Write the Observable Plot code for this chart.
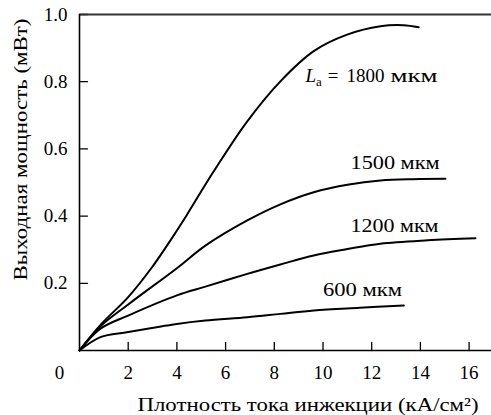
<!DOCTYPE html>
<html>
<head>
<meta charset="utf-8">
<script src="https://cdn.jsdelivr.net/npm/d3@7"></script>
<script src="https://cdn.jsdelivr.net/npm/@observablehq/plot@0.6"></script>
<style>
  html, body { margin: 0; padding: 0; background: #fff; }
  #chart svg { display: block; }
  #chart svg, #chart svg text { font-family: "Liberation Serif", "Times New Roman", serif !important; }
</style>
</head>
<body>
<div id="chart"></div>
<script>
// Series (x: current density kA/cm², y: output power mW)
const x1800 = [0, 0.9, 2, 3, 4, 4.42, 5.52, 6.89, 8.25, 9.62, 10.99, 12.36, 13.3, 13.93];
const y1800 = [0, 0.079, 0.159, 0.25, 0.357, 0.405, 0.534, 0.682, 0.801, 0.891, 0.940, 0.965, 0.968, 0.962];
const x1500 = [0, 0.86, 2, 4, 5.17, 6.89, 8.25, 9.62, 11.0, 12.36, 13.7, 15.03];
const y1500 = [0, 0.072, 0.137, 0.245, 0.312, 0.387, 0.435, 0.471, 0.493, 0.506, 0.510, 0.511];
const x1200 = [0, 0.86, 2, 4, 5.17, 6.89, 8.25, 9.62, 11.0, 12.36, 14.3, 16.26];
const y1200 = [0, 0.065, 0.104, 0.164, 0.19, 0.228, 0.256, 0.283, 0.302, 0.318, 0.328, 0.334];
const x600 = [0, 0.86, 2, 4, 5.17, 6.89, 8.25, 9.62, 11.5, 13.32];
const y600 = [0, 0.04, 0.055, 0.079, 0.089, 0.099, 0.109, 0.119, 0.127, 0.134];

const xTicks = [2, 4, 6, 8, 10, 12, 14, 16];
const yTicks = [0.2, 0.4, 0.6, 0.8, 1.0];

const labelText = ["L_a = 1800 мкм", "1500 мкм", "1200 мкм", "600 мкм"];
const labelX = [9.28, 11.13, 11.13, 10.0];
const labelY = [0.818, 0.559, 0.372, 0.18];

const xTitle = "Плотность тока инжекции (кА/см²)";
const yTitle = "Выходная мощность (мВт)";

const series = [
  ["1800", x1800, y1800],
  ["1500", x1500, y1500],
  ["1200", x1200, y1200],
  ["600", x600, y600]
];
const lineData = series.flatMap(([k, xs, ys]) => xs.map((x, i) => ({k, x, y: ys[i]})));
const labels = labelText.map((t, i) => ({t, x: labelX[i], y: labelY[i]}));

const FONT = "Liberation Serif";
const FS = 19;
// rendered widths of the wide Cyrillic strings in the reference (style)
const labelWidths = {"1500 мкм": 89, "1200 мкм": 88, "600 мкм": 79};

const tickShape = {
  draw(context, l) { context.moveTo(0, 0); context.lineTo(0, -l); }
};

function stretch(width) {
  return function (index, scales, values, dimensions, context, next) {
    const g = next(index, scales, values, dimensions, context);
    for (const el of g.querySelectorAll("text")) {
      el.setAttribute("textLength", width);
      el.setAttribute("lengthAdjust", "spacingAndGlyphs");
    }
    return g;
  };
}

const chart = Plot.plot({
  width: 491,
  height: 415,
  marginLeft: 79,
  marginRight: 0,
  marginTop: 14,
  marginBottom: 65,
  style: {fontFamily: FONT, fontSize: FS + "px", color: "#000", background: "#fff"},
  x: {domain: [0, 16.92]},
  y: {domain: [0, 1.0]},
  marks: [
    Plot.axisX(xTicks, {tickSize: 0, tickPadding: 15, label: null, fontSize: FS, fontFamily: FONT}),
    Plot.axisY(yTicks, {tickSize: 0, tickPadding: 12, label: null, tickFormat: d3.format(".1f"), fontSize: FS, fontFamily: FONT}),
    Plot.vector(xTicks, {x: d => d, y: 0, length: 8, anchor: "start", rotate: 0, shape: tickShape, stroke: "#000", strokeWidth: 1.3}),
    Plot.vector(yTicks, {x: 0, y: d => d, length: 8, anchor: "start", rotate: 90, shape: tickShape, stroke: "#000", strokeWidth: 1.3}),
    Plot.ruleY([0], {stroke: "#000", strokeWidth: 1.6}),
    Plot.ruleY([1.0], {stroke: "#333", strokeWidth: 1.8}),
    Plot.ruleX([0], {stroke: "#000", strokeWidth: 1.6}),
    Plot.text([0], {x: 0, y: 0, text: d => String(d), dx: -20, dy: 22, fontSize: FS, fontFamily: FONT}),
    Plot.line(lineData, {x: "x", y: "y", z: "k", curve: "catmull-rom", stroke: "#000", strokeWidth: 2}),
    Plot.text(labels, {
      x: "x", y: "y", text: "t", textAnchor: "start", fontSize: FS, fontFamily: FONT,
      render(index, scales, values, dimensions, context, next) {
        const g = next(index, scales, values, dimensions, context);
        const ns = "http://www.w3.org/2000/svg";
        for (const el of g.querySelectorAll("text")) {
          const s = el.textContent;
          if (s.startsWith("L_a")) {
            el.textContent = "";
            const mk = (txt, attrs) => {
              const t = document.createElementNS(ns, "tspan");
              for (const k in attrs) t.setAttribute(k, attrs[k]);
              t.textContent = txt;
              return t;
            };
            el.append(
              mk("L", {"font-style": "italic"}),
              mk("a", {"font-size": "13", dy: "4"}),
              mk("=", {dy: "-4", dx: "6"}),
              mk("1800", {dx: "8"}),
              mk("мкм", {dx: "6", textLength: "47", lengthAdjust: "spacingAndGlyphs"})
            );
          } else if (labelWidths[s]) {
            el.setAttribute("textLength", labelWidths[s]);
            el.setAttribute("lengthAdjust", "spacingAndGlyphs");
          }
        }
        return g;
      }
    }),
    Plot.text([xTitle], {frameAnchor: "bottom-right", text: d => d, textAnchor: "end", lineAnchor: "bottom", dx: -13, dy: 60, fontSize: FS, fontFamily: FONT, render: stretch(341)}),
    Plot.text([yTitle], {frameAnchor: "left", text: d => d, textAnchor: "middle", rotate: -90, dx: -59, dy: -33, fontSize: FS, fontFamily: FONT, render: stretch(262)})
  ]
});
document.getElementById("chart").append(chart);
</script>
</body>
</html>
